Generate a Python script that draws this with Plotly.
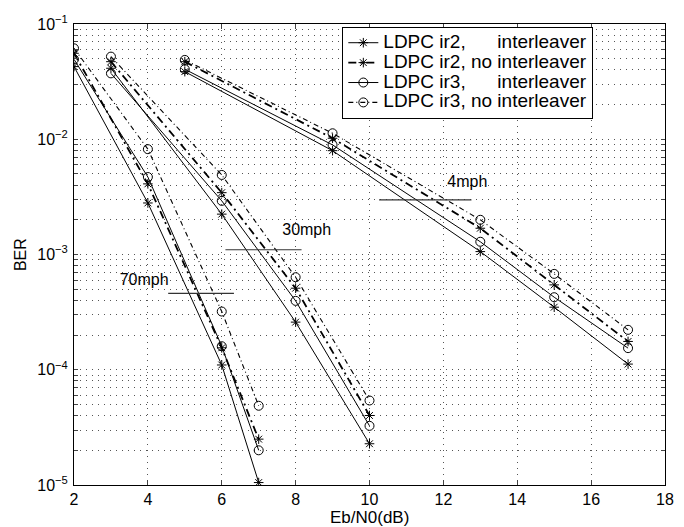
import plotly.graph_objects as go

# Eb/N0 points for each vehicle-speed group
x_70mph = [2, 4, 6, 7]
x_30mph = [3, 6, 8, 10]
x_4mph = [5, 9, 13, 15, 17]

# BER values (per speed group)
ir2_int_70 = [0.0427, 0.0028, 1.1e-4, 1.05e-5]
ir2_int_30 = [0.0413, 0.00224, 2.59e-4, 2.28e-5]
ir2_int_4 = [0.0386, 0.00796, 1.06e-3, 3.49e-4, 1.12e-4]

ir2_noint_70 = [0.0557, 0.0041, 1.55e-4, 2.5e-5]
ir2_noint_30 = [0.0471, 0.00344, 5.1e-4, 4.01e-5]
ir2_noint_4 = [0.0471, 0.0102, 1.69e-3, 5.45e-4, 1.76e-4]

ir3_int_70 = [0.0494, 0.0047, 1.6e-4, 2.0e-5]
ir3_int_30 = [0.0373, 0.00292, 3.96e-4, 3.26e-5]
ir3_int_4 = [0.0405, 0.00893, 1.29e-3, 4.26e-4, 1.54e-4]

ir3_noint_70 = [0.0615, 0.0082, 3.2e-4, 4.87e-5]
ir3_noint_30 = [0.0521, 0.0049, 6.35e-4, 5.41e-5]
ir3_noint_4 = [0.0488, 0.01127, 2.0e-3, 6.79e-4, 2.22e-4]

series_names = [
    "LDPC ir2,\u00a0\u00a0\u00a0\u00a0\u00a0\u00a0interleaver",
    "LDPC ir2, no interleaver",
    "LDPC ir3,\u00a0\u00a0\u00a0\u00a0\u00a0\u00a0interleaver",
    "LDPC ir3, no interleaver",
]

# speed labels with their reference segments
speed_labels = ["70mph", "30mph", "4mph"]
label_x = [3.9, 8.3, 12.65]
label_y = [5.9e-4, 1.6e-3, 4.15e-3]
seg_x0 = [4.55, 6.1, 10.26]
seg_x1 = [6.33, 8.16, 12.76]
seg_y = [4.6e-4, 1.1e-3, 2.98e-3]

x_ticks = [2, 4, 6, 8, 10, 12, 14, 16, 18]
decades = [1e-5, 1e-4, 1e-3, 1e-2]
decade_labels = {1e-5: "10<sup>\u22125</sup>", 1e-4: "10<sup>\u22124</sup>",
                 1e-3: "10<sup>\u22123</sup>", 1e-2: "10<sup>\u22122</sup>",
                 1e-1: "10<sup>\u22121</sup>"}

y_tickvals = []
y_ticktext = []
for d in decades:
    for m in range(1, 10):
        y_tickvals.append(d * m)
        y_ticktext.append(decade_labels[d] if m == 1 else "")
y_tickvals.append(1e-1)
y_ticktext.append(decade_labels[1e-1])


def join(*groups):
    out = []
    for i, g in enumerate(groups):
        if i:
            out.append(None)
        out.extend(g)
    return out


xs = join(x_70mph, x_30mph, x_4mph)

styles = [
    dict(y=join(ir2_int_70, ir2_int_30, ir2_int_4), dash="solid", width=1.0, sym="asterisk-open", size=8),
    dict(y=join(ir2_noint_70, ir2_noint_30, ir2_noint_4), dash="8px,4px,2px,4px", width=1.8, sym="asterisk-open", size=8),
    dict(y=join(ir3_int_70, ir3_int_30, ir3_int_4), dash="solid", width=1.0, sym="circle-open", size=9),
    dict(y=join(ir3_noint_70, ir3_noint_30, ir3_noint_4), dash="5px,3px,1px,3px", width=1.1, sym="circle-open", size=9),
]

fig = go.Figure()
for name, s in zip(series_names, styles):
    fig.add_trace(go.Scatter(
        x=xs, y=s["y"], name='<span style="font-size:19px">' + name + "</span>",
        mode="lines+markers",
        line=dict(color="black", width=s["width"], dash=s["dash"]),
        marker=dict(symbol=s["sym"], size=s["size"], color="black",
                    line=dict(color="black", width=1)),
        connectgaps=False,
    ))

for i in range(len(speed_labels)):
    fig.add_trace(go.Scatter(
        x=[seg_x0[i], seg_x1[i]], y=[seg_y[i], seg_y[i]], mode="lines",
        line=dict(color="#333333", width=1.2), showlegend=False, hoverinfo="skip"))
    fig.add_trace(go.Scatter(
        x=[label_x[i]], y=[label_y[i]], mode="text", text=[speed_labels[i]],
        textfont=dict(size=16, color="black"), showlegend=False, hoverinfo="skip"))

font_family = "Liberation Sans, Arial, Helvetica, sans-serif"
grid_color = "#555555"
grid_dash = "1px,5px"

# the page body adds an 8px offset, so the figure is sized to fit the window
fig.update_layout(
    width=676, height=519,
    margin=dict(l=65.5, r=19, t=16, b=41.5, autoexpand=False),
    paper_bgcolor="white", plot_bgcolor="white",
    font=dict(family=font_family, size=16, color="black"),
    showlegend=True,
    legend=dict(x=0.454, y=0.994, xanchor="left", yanchor="top",
                bordercolor="black", borderwidth=1, bgcolor="white",
                font=dict(size=13), tracegroupgap=0, itemwidth=30),
    xaxis=dict(
        range=[2, 18], tickvals=x_ticks, ticks="inside", ticklen=5,
        showline=True, linecolor="black", linewidth=1, mirror="allticks",
        showgrid=True, gridcolor=grid_color, gridwidth=1, griddash=grid_dash,
        zeroline=False, tickfont=dict(size=16), ticklabelstandoff=0,
        automargin=False,
    ),
    yaxis=dict(
        type="log", range=[-5, -1], tickvals=y_tickvals, ticktext=y_ticktext,
        ticks="inside", ticklen=4,
        showline=True, linecolor="black", linewidth=1, mirror="allticks",
        showgrid=True, gridcolor=grid_color, gridwidth=1, griddash=grid_dash,
        zeroline=False, tickfont=dict(size=16), ticklabelstandoff=2,
        automargin=False,
    ),
    annotations=[
        dict(text="Eb/N0(dB)", xref="paper", yref="paper", x=0.5, y=-0.0715,
             xanchor="center", yanchor="middle", showarrow=False,
             font=dict(size=17)),
        dict(text="BER", xref="paper", yref="paper", x=-0.0904, y=0.5,
             xanchor="center", yanchor="middle", showarrow=False, textangle=-90,
             font=dict(size=16)),
    ],
)

fig.write_html("out.html")
